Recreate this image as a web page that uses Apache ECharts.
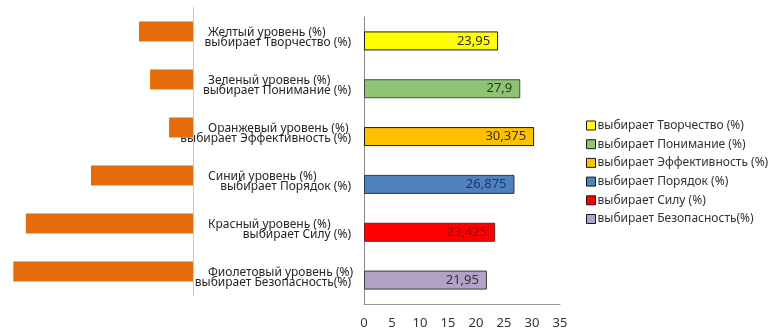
<!DOCTYPE html>
<html>
<head>
<meta charset="utf-8">
<script src="https://cdn.jsdelivr.net/npm/echarts@6/dist/echarts.min.js"></script>
<style>
  html, body { margin: 0; padding: 0; background: #fff; }
  #chart { width: 771px; height: 330px; }
</style>
</head>
<body>
<div id="chart"></div>
<script>
// Colour levels (first label line) and the value each one is chosen for (second line)
const levelNames = [
  'Желтый уровень (%)',
  'Зеленый уровень (%)',
  'Оранжевый уровень (%)',
  'Синий уровень (%)',
  'Красный уровень (%)',
  'Фиолетовый уровень (%)'
];
const choiceNames = [
  'выбирает Творчество (%)',
  'выбирает Понимание (%)',
  'выбирает Эффективность (%)',
  'выбирает Порядок (%)',
  'выбирает Силу (%)',
  'выбирает Безопасность(%)'
];
// Share of each level (left orange bars)
const levelShare = [9.95, 7.9, 4.4, 18.8, 30.8, 33.1];
// Share choosing the matching value (right coloured bars)
const choiceShare = [23.95, 27.9, 30.375, 26.875, 23.425, 21.95];
const xTicks = [0, 5, 10, 15, 20, 25, 30, 35];

const categories = levelNames.map((l, i) => l + '\n' + choiceNames[i]);

// bar fill, bar border, value label colour per row
const barStyles = [
  { fill: '#FFFF00', border: '#1a1a1a', text: '#333333' },
  { fill: '#8FC474', border: '#4a4a4a', text: '#1d3a1d' },
  { fill: '#FFC000', border: '#1a1a1a', text: '#333333' },
  { fill: '#4F81BD', border: '#2a3a55', text: '#1F3864' },
  { fill: '#FF0000', border: '#7a1c1c', text: '#6b1a1a' },
  { fill: '#B3A2C7', border: '#3a3a3a', text: '#333333' }
];

const fontFamily = '"Noto Sans", "DejaVu Sans", sans-serif';

const rightSeries = choiceNames.map((name, i) => ({
  name: name,
  type: 'bar',
  xAxisIndex: 1,
  yAxisIndex: 1,
  stack: 'choice',
  barWidth: 19,
  data: choiceShare.map((v, j) => (j === i ? v : '-')),
  itemStyle: {
    color: barStyles[i].fill,
    borderColor: barStyles[i].border,
    borderWidth: 1
  },
  label: {
    show: true,
    position: 'insideRight',
    distance: 8,
    fontFamily: fontFamily,
    fontSize: 13,
    color: barStyles[i].text,
    formatter: p => String(p.value).replace('.', ',')
  }
}));

const chart = echarts.init(document.getElementById('chart'));
chart.setOption({
  animation: false,
  backgroundColor: '#ffffff',
  textStyle: { fontFamily: fontFamily },
  grid: [
    { left: 3, width: 190, top: 7.5, height: 288, containLabel: false },
    { left: 364, width: 196, top: 17, height: 288, containLabel: false }
  ],
  legend: {
    orient: 'vertical',
    left: 586,
    top: 119.5,
    padding: 0,
    itemWidth: 9,
    itemHeight: 9,
    itemGap: 6.7,
    icon: 'rect',
    data: choiceNames,
    itemStyle: { borderColor: '#1a1a1a', borderWidth: 1 },
    textStyle: {
      fontFamily: fontFamily,
      fontSize: 12,
      lineHeight: 12,
      color: '#333333',
      padding: [0, 0, 0, -3]
    }
  },
  xAxis: [
    {
      gridIndex: 0,
      type: 'value',
      inverse: true,
      min: 0,
      max: 35,
      show: false
    },
    {
      gridIndex: 1,
      type: 'value',
      min: xTicks[0],
      max: xTicks[xTicks.length - 1],
      interval: 5,
      axisLine: { show: true, lineStyle: { color: '#9a9a9a', width: 1 } },
      axisTick: { show: false },
      splitLine: { show: false },
      axisLabel: {
        margin: 13,
        fontSize: 13,
        color: '#333333',
        fontFamily: fontFamily
      }
    }
  ],
  yAxis: [
    {
      gridIndex: 0,
      type: 'category',
      inverse: true,
      position: 'right',
      data: categories,
      axisLine: { show: true, lineStyle: { color: '#d8c4c4', width: 1 } },
      axisTick: { show: false },
      axisLabel: { show: false }
    },
    {
      gridIndex: 1,
      type: 'category',
      inverse: true,
      data: categories,
      axisLine: { show: true, lineStyle: { color: '#8a8a8a', width: 1 } },
      axisTick: { show: false },
      axisLabel: {
        margin: 13,
        width: 170,
        overflow: 'none',
        padding: [0, 0, 6, 0],
        fontFamily: fontFamily,
        formatter: v => {
          const parts = v.split('\n');
          return '{a|' + parts[0] + '}\n{b|' + parts[1] + '}';
        },
        rich: {
          a: { align: 'left', padding: [0, 0, 0, 27], fontSize: 12, lineHeight: 10, color: '#262626', fontFamily: fontFamily },
          b: { align: 'right', fontSize: 12, lineHeight: 10, color: '#262626', fontFamily: fontFamily }
        }
      }
    }
  ],
  series: [
    {
      name: 'уровень',
      type: 'bar',
      xAxisIndex: 0,
      yAxisIndex: 0,
      barWidth: 20,
      data: levelShare,
      itemStyle: { color: '#E46C0A' }
    }
  ].concat(rightSeries)
});
</script>
</body>
</html>
